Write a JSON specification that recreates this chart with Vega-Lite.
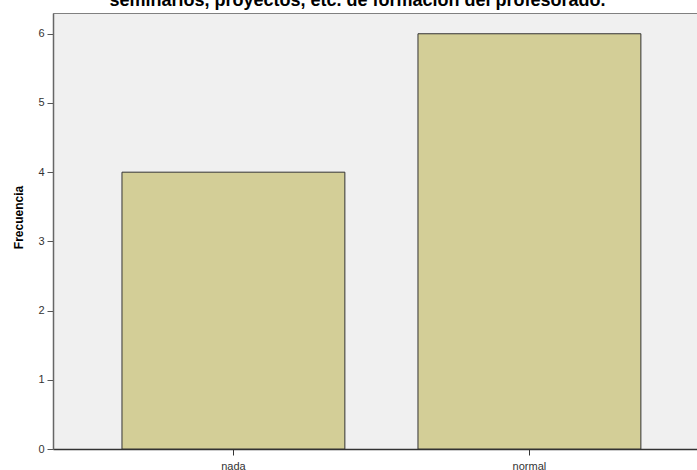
{
  "$schema": "https://vega.github.io/schema/vega-lite/v6.json",
  "autosize": "none",
  "width": 645,
  "height": 436,
  "padding": {"left": 53, "top": 13, "right": 0, "bottom": 21},
  "background": "white",
  "title": {
    "text": "seminarios, proyectos, etc. de formación del profesorado.",
    "font": "Liberation Sans",
    "fontSize": 18,
    "fontWeight": "bold",
    "color": "#000000",
    "anchor": "middle",
    "baseline": "alphabetic",
    "offset": 0,
    "dy": 11,
    "dx": -18
  },
  "config": {
    "view": {"fill": "#F0F0F0", "stroke": "#808080", "strokeWidth": 1},
    "axis": {"grid": false, "labelFont": "Liberation Sans", "titleFont": "Liberation Sans"}
  },
  "data": {
    "values": [
      {"categoria": "nada", "frecuencia": 4},
      {"categoria": "normal", "frecuencia": 6}
    ]
  },
  "mark": {"type": "bar", "fill": "#D3CE97", "stroke": "#333333", "strokeWidth": 1},
  "encoding": {
    "x": {
      "field": "categoria",
      "type": "nominal",
      "sort": ["nada", "normal"],
      "scale": {"paddingInner": 0.247, "paddingOuter": 0.213, "align": 0.547},
      "axis": {
        "title": null,
        "labelAngle": 0,
        "labelFontSize": 11,
        "labelColor": "#333333",
        "tickSize": 6,
        "tickColor": "#333333",
        "domainColor": "#333333",
        "domainWidth": 1.5,
        "labelPadding": 5
      }
    },
    "y": {
      "field": "frecuencia",
      "type": "quantitative",
      "scale": {"domain": [0, 6.3], "nice": false, "zero": true},
      "axis": {
        "title": "Frecuencia",
        "titleFontSize": 12,
        "titleFontWeight": "bold",
        "titleColor": "#000000",
        "titlePadding": 12,
        "titleY": 204,
        "values": [0, 1, 2, 3, 4, 5, 6],
        "format": "d",
        "labelFontSize": 11,
        "labelColor": "#333333",
        "tickSize": 6,
        "tickColor": "#555555",
        "domainColor": "#666666",
        "domainWidth": 1.5,
        "labelPadding": 3
      }
    }
  }
}
